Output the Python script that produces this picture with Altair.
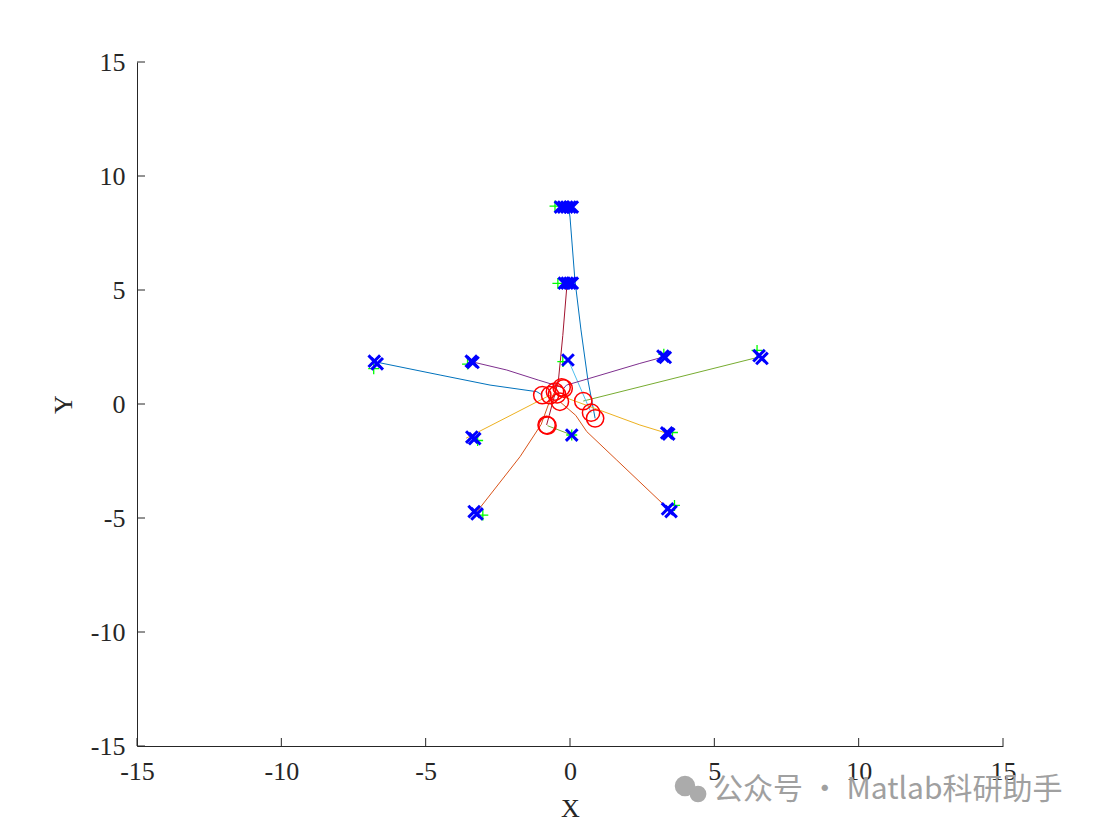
import altair as alt
import pandas as pd

# ---- data ----
agent_colors = ["#0072BD", "#D95319", "#EDB120", "#7E2F8E", "#77AC30", "#4DBEEE",
                "#A2142F", "#0072BD", "#D95319", "#EDB120", "#7E2F8E", "#77AC30"]

traj_x = [
    [0.87, 0.62, 0.38, 0.17, 0.0, -0.05],
    [-0.52, -0.69, -1.0, -1.73, -3.26],
    [-0.69, -3.6],
    [-0.29, -0.45, -1.1, -2.19, -3.36],
    [0.46, 6.55],
    [0.73, -0.06],
    [-0.81, -0.72, -0.55, -0.4, -0.25, -0.12, -0.1],
    [-0.96, -1.15, -2.77, -4.5, -6.6],
    [-0.35, 0.2, 0.58, 1.62, 3.4],
    [-0.45, 2.42, 3.4],
    [-0.22, -0.12, 0.69, 2.42, 3.2],
    [-0.78, 0.06],
]
traj_y = [
    [-0.63, 1.05, 3.25, 5.44, 8.2, 8.64],
    [0.54, 0.18, -0.9, -2.31, -4.78],
    [0.39, -1.5],
    [0.73, 0.80, 1.05, 1.49, 1.84],
    [0.13, 2.06],
    [-0.38, 1.93],
    [-0.92, -0.5, 0.3, 1.05, 3.0, 5.0, 5.3],
    [0.39, 0.54, 0.83, 1.27, 1.81],
    [0.10, -0.5, -1.21, -2.46, -4.6],
    [0.42, -0.92, -1.3],
    [0.68, 0.83, 1.13, 1.78, 2.05],
    [-0.95, -1.36],
]

final_x = [-0.33, -0.22, -0.11, 0.0, 0.08,
           -0.2, -0.1, 0.0, 0.08,
           -0.07, -3.42, -3.36,
           -6.78, -6.68, 3.22, 3.3, 6.55, 6.65, -3.4, -3.3, 0.06, 3.35, 3.42,
           -3.32, -3.22, 3.38, 3.5]
final_y = [8.64, 8.64, 8.64, 8.64, 8.64,
           5.3, 5.3, 5.3, 5.3,
           1.93, 1.88, 1.82,
           1.88, 1.76, 2.1, 2.04, 2.12, 2.0, -1.45, -1.52, -1.36, -1.27, -1.32,
           -4.72, -4.82, -4.6, -4.72]

target_x = [-0.52, -0.42, -0.25, -3.55, -6.8, 3.25, 6.48, -3.2, 0.06, 3.55, -3.02, 3.62]
target_y = [8.68, 5.29, 1.86, 1.75, 1.55, 2.18, 2.35, -1.6, -1.36, -1.25, -4.87, -4.45]

start_x = [0.87, -0.52, -0.69, -0.29, 0.46, 0.73, -0.81, -0.96, -0.35, -0.45, -0.22, -0.78]
start_y = [-0.63, 0.54, 0.39, 0.73, 0.13, -0.38, -0.92, 0.39, 0.10, 0.42, 0.68, -0.95]

tick_values = [-15, -10, -5, 0, 5, 10, 15]

# ---- tables ----
rows = []
for i, (xs_, ys_) in enumerate(zip(traj_x, traj_y)):
    for k, (xv, yv) in enumerate(zip(xs_, ys_)):
        rows.append({"agent": f"a{i+1}", "k": k, "x": xv, "y": yv})
lines_df = pd.DataFrame(rows)
final_df = pd.DataFrame({"x": final_x, "y": final_y})
target_df = pd.DataFrame({"x": target_x, "y": target_y})
start_df = pd.DataFrame({"x": start_x, "y": start_y})
ticks_df = pd.DataFrame({"x": tick_values, "y": tick_values})

W, H = 866, 684
FONT = "Liberation Serif"
INK = "#262626"

xs = alt.Scale(domain=[-15, 15], nice=False, zero=False)
ys = alt.Scale(domain=[-15, 15], nice=False, zero=False)

x_axis = alt.Axis(values=tick_values, grid=False, ticks=False, tickSize=0,
                  labelExpr="'' + datum.value",
                  labelFont=FONT, labelFontSize=26, labelColor=INK, labelPadding=12,
                  domainColor=INK, domainWidth=1, title="X", titleFont=FONT,
                  titleFontSize=26, titleFontWeight="normal", titleColor=INK,
                  titlePadding=11, labelFlush=False)
y_axis = alt.Axis(values=tick_values, grid=False, ticks=False, tickSize=0,
                  labelExpr="'' + datum.value",
                  labelFont=FONT, labelFontSize=26, labelColor=INK, labelPadding=12,
                  domainColor=INK, domainWidth=1, title="Y", titleFont=FONT,
                  titleFontSize=26, titleFontWeight="normal", titleColor=INK,
                  titlePadding=14, labelFlush=False)

X = alt.X("x:Q", scale=xs, axis=x_axis)
Y = alt.Y("y:Q", scale=ys, axis=y_axis)

lines = alt.Chart(lines_df).mark_line(strokeWidth=1).encode(
    x=X, y=Y,
    color=alt.Color("agent:N", scale=alt.Scale(domain=[f"a{i+1}" for i in range(12)],
                                              range=agent_colors), legend=None),
    order="k:O",
)

plus_path = "M-1,0L1,0M0,-1L0,1"
x_path = "M-1,-1L1,1M-1,1L1,-1"

targets = alt.Chart(target_df).mark_point(shape=plus_path, stroke="#00FF00", strokeWidth=1.3,
                                          size=120, filled=False, opacity=1).encode(x=X, y=Y)

finals = alt.Chart(final_df).mark_point(shape=x_path, stroke="#0000FF", strokeWidth=3,
                                        size=135, filled=False, opacity=1).encode(x=X, y=Y)

starts = alt.Chart(start_df).mark_point(shape="circle", stroke="#FF0000", strokeWidth=1.5,
                                        size=300, filled=False, opacity=1).encode(x=X, y=Y)

xticks = alt.Chart(ticks_df).mark_rule(color=INK, strokeWidth=1).encode(
    x=X, y=alt.value(H), y2=alt.value(H - 8))
yticks = alt.Chart(ticks_df).mark_rule(color=INK, strokeWidth=1).encode(
    y=Y, x=alt.value(0), x2=alt.value(8))

# watermark
wm_text = ["公众号 · Matlab科研助手"]
wm = alt.Chart(pd.DataFrame({"t": wm_text})).mark_text(
    font="Noto Sans CJK SC", fontSize=30, color="#a0a0a0", align="left", baseline="middle"
).encode(text="t:N", x=alt.value(576), y=alt.value(728))
icon1 = alt.Chart(pd.DataFrame({"t": [0]})).mark_point(
    filled=True, shape="circle", color="#ababab", opacity=1, size=420
).encode(x=alt.value(548), y=alt.value(724))
icon2 = alt.Chart(pd.DataFrame({"t": [0]})).mark_point(
    filled=True, shape="circle", color="#ababab", opacity=1, size=280
).encode(x=alt.value(561), y=alt.value(732))

chart = alt.layer(lines, targets, finals, starts, xticks, yticks, icon1, icon2, wm).properties(
    width=W, height=H,
    background="white",
    autosize=alt.AutoSizeParams(type="none"),
    padding={"left": 129, "top": 54, "right": 90, "bottom": 76},
).configure_view(stroke="transparent", strokeWidth=0)

chart.save("out.html", embed_options={"renderer": "svg", "actions": False})
